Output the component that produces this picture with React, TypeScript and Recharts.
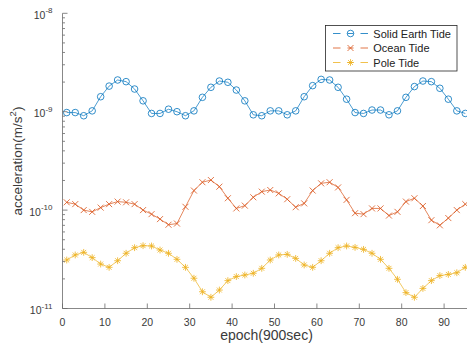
import React from "react";
import { LineChart, Line, XAxis, YAxis, Legend } from "recharts";

// ---------- data ----------
const epochs = [
  1, 3, 5, 7, 9, 11, 13, 15, 17, 19, 21, 23, 25, 27, 29, 31, 33, 35, 37, 39, 41, 43, 45, 47,
  49, 51, 53, 55, 57, 59, 61, 63, 65, 67, 69, 71, 73, 75, 77, 79, 81, 83, 85, 87, 89, 91, 93, 95,
];

const solidEarthTide = [
  0.98e-9, 0.98e-9, 0.91e-9, 1.02e-9, 1.42e-9, 1.82e-9, 2.1e-9, 2.02e-9, 1.7e-9, 1.29e-9,
  0.96e-9, 0.96e-9, 1.06e-9, 1.0e-9, 0.91e-9, 1.02e-9, 1.4e-9, 1.77e-9, 2.05e-9, 1.99e-9,
  1.66e-9, 1.29e-9, 0.93e-9, 0.91e-9, 1.02e-9, 1.02e-9, 0.93e-9, 1.02e-9, 1.42e-9, 1.84e-9,
  2.13e-9, 2.1e-9, 1.77e-9, 1.34e-9, 0.98e-9, 0.96e-9, 1.04e-9, 1.04e-9, 0.93e-9, 1.02e-9,
  1.4e-9, 1.8e-9, 2.05e-9, 2.02e-9, 1.73e-9, 1.34e-9, 1.02e-9, 0.96e-9,
];

const oceanTide = [
  1.2e-10, 1.15e-10, 1.0e-10, 0.96e-10, 1.06e-10, 1.15e-10, 1.22e-10, 1.2e-10, 1.15e-10, 1.0e-10,
  0.91e-10, 0.81e-10, 0.71e-10, 0.73e-10, 1.08e-10, 1.58e-10, 1.92e-10, 2.02e-10, 1.73e-10, 1.32e-10,
  1.04e-10, 1.11e-10, 1.35e-10, 1.54e-10, 1.6e-10, 1.48e-10, 1.29e-10, 1.07e-10, 1.17e-10, 1.58e-10,
  1.87e-10, 1.92e-10, 1.7e-10, 1.27e-10, 0.93e-10, 0.91e-10, 1.04e-10, 1.04e-10, 0.88e-10, 0.96e-10,
  1.22e-10, 1.32e-10, 1.1e-10, 0.79e-10, 0.7e-10, 0.83e-10, 1.0e-10, 1.15e-10,
];

const poleTide = [
  3.11e-11, 3.5e-11, 3.72e-11, 3.29e-11, 2.83e-11, 2.62e-11, 3.06e-11, 3.64e-11, 4.15e-11, 4.35e-11,
  4.32e-11, 3.93e-11, 3.64e-11, 3.16e-11, 2.62e-11, 2.03e-11, 1.48e-11, 1.3e-11, 1.54e-11, 1.92e-11,
  2.11e-11, 2.19e-11, 2.28e-11, 2.56e-11, 3.11e-11, 3.5e-11, 3.55e-11, 3.23e-11, 2.77e-11, 2.62e-11,
  3.06e-11, 3.64e-11, 4.15e-11, 4.32e-11, 4.18e-11, 3.99e-11, 3.64e-11, 3.16e-11, 2.56e-11, 1.98e-11,
  1.45e-11, 1.3e-11, 1.6e-11, 1.92e-11, 2.16e-11, 2.22e-11, 2.31e-11, 2.62e-11,
];

const seriesNames = ["Solid Earth Tide", "Ocean Tide", "Pole Tide"];
const xTicks = [0, 10, 20, 30, 40, 50, 60, 70, 80, 90];
const yDecades = [-11, -10, -9];
const yMantissas = [1, 2, 3, 4, 5, 6, 7, 8, 9];

// ---------- derived ----------
const data = epochs.map((e, i) => ({
  epoch: e,
  solid: solidEarthTide[i],
  ocean: oceanTide[i],
  pole: poleTide[i],
}));

const yTicks: number[] = [];
yDecades.forEach((d) => yMantissas.forEach((m) => yTicks.push(m * Math.pow(10, d))));
yTicks.push(1e-8);

// ---------- styles ----------
const FONT = '"Liberation Sans", Arial, Helvetica, sans-serif';
const C_SOLID = "#0072BD";
const C_OCEAN = "#D95319";
const C_POLE = "#EDB120";
const AXIS = "#6a6a6a";
const TEXT = "#3a3a3a";

const CircleDot = (p: any) => {
  const { cx, cy, index } = p;
  if (cx == null || cy == null) return <g key={`c${index}`} />;
  return <circle key={`c${index}`} cx={cx} cy={cy} r={3.3} fill="none" stroke={C_SOLID} strokeWidth={0.8} />;
};

const drawX = (cx: number, cy: number, s: number, color: string) => (
  <>
    <line x1={cx - s} y1={cy - s} x2={cx + s} y2={cy + s} stroke={color} strokeWidth={0.8} />
    <line x1={cx - s} y1={cy + s} x2={cx + s} y2={cy - s} stroke={color} strokeWidth={0.8} />
  </>
);

const drawStar = (cx: number, cy: number, s: number, color: string) => (
  <>
    <line x1={cx - s} y1={cy} x2={cx + s} y2={cy} stroke={color} strokeWidth={0.8} />
    <line x1={cx} y1={cy - s} x2={cx} y2={cy + s} stroke={color} strokeWidth={0.8} />
    {drawX(cx, cy, s * 0.72, color)}
  </>
);

const CrossDot = (p: any) => {
  const { cx, cy, index } = p;
  if (cx == null || cy == null) return <g key={`x${index}`} />;
  return <g key={`x${index}`}>{drawX(cx, cy, 3, C_OCEAN)}</g>;
};

const StarDot = (p: any) => {
  const { cx, cy, index } = p;
  if (cx == null || cy == null) return <g key={`s${index}`} />;
  return <g key={`s${index}`}>{drawStar(cx, cy, 3.4, C_POLE)}</g>;
};

const YTick = (p: any) => {
  const { x, y, payload } = p;
  const lg = Math.log10(payload.value);
  const major = Math.abs(lg - Math.round(lg)) < 1e-6;
  return (
    <g>
      <line x1={x} x2={x + (major ? 5 : 2.5)} y1={y} y2={y} stroke={AXIS} strokeWidth={0.8} />
      {major && (
        <text x={x - 10} y={y + 5.5} textAnchor="end" fontSize={10.5} fill={TEXT} fontFamily={FONT}>
          10
          <tspan dy={-5.5} fontSize={8}>
            {String(Math.round(lg))}
          </tspan>
        </text>
      )}
    </g>
  );
};

const XTick = (p: any) => {
  const { x, y, payload } = p;
  return (
    <g>
      <line x1={x} x2={x} y1={y} y2={y - 5} stroke={AXIS} strokeWidth={0.8} />
      <text x={x} y={y + 17} textAnchor="middle" fontSize={10.5} fill={TEXT} fontFamily={FONT}>
        {payload.value}
      </text>
    </g>
  );
};

const TopTick = (p: any) => {
  const { x, y } = p;
  return <line x1={x} x2={x} y1={y} y2={y + 5} stroke={AXIS} strokeWidth={0.8} />;
};

const XLabel = () => (
  <text x={266.5} y={339.5} textAnchor="middle" fontSize={14} fill={TEXT} fontFamily={FONT}>
    epoch(900sec)
  </text>
);

const YLabel = () => (
  <text
    x={21.5}
    y={161}
    transform="rotate(-90 21.5 161)"
    textAnchor="middle"
    fontSize={13.5}
    fill={TEXT}
    fontFamily={FONT}
  >
    acceleration(m/s
    <tspan dy={-6} fontSize={9.5}>
      2
    </tspan>
    <tspan dy={6}>)</tspan>
  </text>
);

const LegendBox = () => {
  const rows = [
    { cy: 8.5, color: C_SOLID, kind: "circle" },
    { cy: 23, color: C_OCEAN, kind: "x" },
    { cy: 37.5, color: C_POLE, kind: "star" },
  ];
  return (
    <svg width={133} height={47} style={{ display: "block" }}>
      <rect x={0.5} y={0.5} width={131.5} height={45.5} fill="#fff" stroke="#262626" strokeWidth={0.8} />
      {rows.map((r, i) => (
        <g key={i}>
          <line x1={8} x2={15.5} y1={r.cy} y2={r.cy} stroke={r.color} strokeWidth={0.8} />
          <line x1={22.5} x2={28.5} y1={r.cy} y2={r.cy} stroke={r.color} strokeWidth={0.8} />
          <line x1={35.5} x2={43} y1={r.cy} y2={r.cy} stroke={r.color} strokeWidth={0.8} />
          {r.kind === "circle" && (
            <circle cx={25.5} cy={r.cy} r={3.3} fill="none" stroke={r.color} strokeWidth={0.8} />
          )}
          {r.kind === "x" && drawX(25.5, r.cy, 3, r.color)}
          {r.kind === "star" && drawStar(25.5, r.cy, 3.4, r.color)}
          <text x={48.3} y={r.cy + 4} fontSize={11} fill="#222" fontFamily={FONT}>
            {seriesNames[i]}
          </text>
        </g>
      ))}
    </svg>
  );
};

export default function App() {
  return (
    <div
      style={{
        position: "absolute",
        left: 0,
        top: 0,
        width: 467,
        height: 347,
        overflow: "hidden",
        background: "#fff",
      }}
    >
      <LineChart
        width={500}
        height={347}
        data={data}
        margin={{ top: 13.3, right: 13.5, bottom: 0, left: 0 }}
        style={{ fontFamily: FONT }}
      >
        <XAxis
          dataKey="epoch"
          type="number"
          domain={[0, 100]}
          ticks={xTicks}
          interval={0}
          allowDataOverflow
          height={38.5}
          tickSize={0}
          tickMargin={0}
          tickLine={false}
          tick={<XTick />}
          axisLine={{ stroke: AXIS, strokeWidth: 0.8 }}
          label={{ content: <XLabel /> }}
        />
        <XAxis
          xAxisId="top"
          orientation="top"
          type="number"
          domain={[0, 100]}
          ticks={xTicks}
          interval={0}
          allowDataOverflow
          height={0}
          tickSize={0}
          tickMargin={0}
          tickLine={false}
          tick={<TopTick />}
          axisLine={{ stroke: AXIS, strokeWidth: 0.8 }}
        />
        <YAxis
          type="number"
          scale="log"
          domain={[1e-11, 1e-8]}
          ticks={yTicks}
          interval={0}
          allowDataOverflow
          width={62.5}
          tickSize={0}
          tickMargin={0}
          tickLine={false}
          tick={<YTick />}
          axisLine={{ stroke: AXIS, strokeWidth: 0.8 }}
          label={{ content: <YLabel /> }}
        />
        <Legend
          layout="vertical"
          align="center"
          verticalAlign="middle"
          wrapperStyle={{ left: 325, top: 25, width: 133, height: 47 }}
          content={<LegendBox />}
        />
        <Line
          dataKey="solid"
          name={seriesNames[0]}
          stroke={C_SOLID}
          strokeWidth={0.7}
          dot={CircleDot}
          activeDot={false}
          isAnimationActive={false}
        />
        <Line
          dataKey="ocean"
          name={seriesNames[1]}
          stroke={C_OCEAN}
          strokeWidth={0.7}
          dot={CrossDot}
          activeDot={false}
          isAnimationActive={false}
        />
        <Line
          dataKey="pole"
          name={seriesNames[2]}
          stroke={C_POLE}
          strokeWidth={0.7}
          dot={StarDot}
          activeDot={false}
          isAnimationActive={false}
        />
      </LineChart>
    </div>
  );
}
